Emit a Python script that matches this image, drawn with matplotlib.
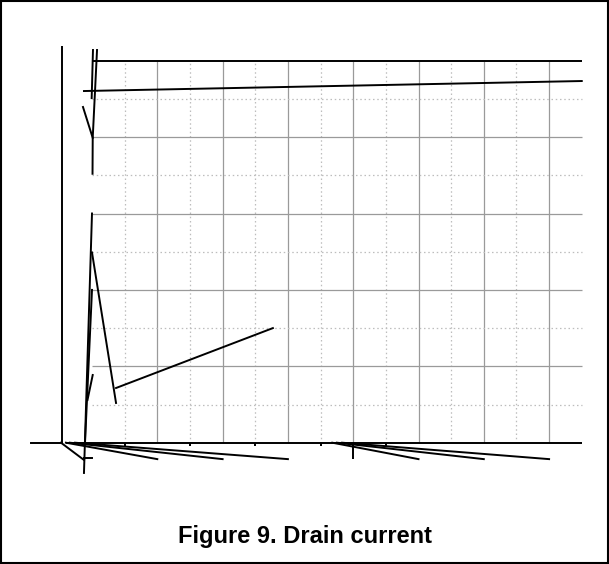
import matplotlib
matplotlib.use("Agg")
import matplotlib.pyplot as plt
from matplotlib.patches import Rectangle

# grid layout (data units)
x_major = [1, 2, 3, 4, 5, 6, 7]
x_minor = [0.5, 1.5, 2.5, 3.5, 4.5, 5.5, 6.5]
y_major = [1, 2, 3, 4]
y_minor = [0.5, 1.5, 2.5, 3.5, 4.5]
x_max = 7.5
y_max = 5.0

# tick marks under the axis
minor_tick_x = [0.5, 1.5, 2.5, 3.5, 4.5]
major_tick_x = [4.0]

# stray trace segments, each as (xs, ys)
top_trace_x = [0.077, 0.011, 0.008]
top_trace_y = [5.14, 3.99, 3.52]
top_stub_x = [0.015, -0.005]
top_stub_y = [5.14, 4.51]
top_v_x = [-0.138, 0.011]
top_v_y = [4.394, 3.99]
sat_line_x = [-0.123, 7.5]
sat_line_y = [4.603, 4.734]
drop_a_x = [0.0, -0.123]
drop_a_y = [3.0, -0.396]
drop_b_x = [0.0, -0.107]
drop_b_y = [2.0, 0.0]
drop_c_x = [0.0, 0.368]
drop_c_y = [2.49, 0.52]
drop_d_x = [0.011, -0.069]
drop_d_y = [0.886, 0.559]
rise_x = [0.368, 2.77]
rise_y = [0.716, 1.50]

# fans below the axis
fan1_start = [-0.40, -0.34, -0.26]
fan1_end = [1.0, 2.0, 3.0]
fan2_start = [3.68, 3.75, 3.83]
fan2_end = [5.0, 6.0, 7.0]
fan_y = -0.215

# left axis pieces
left_axis_x = -0.459
left_axis_top = 5.19
left_stub_x = [-0.934, -0.475]
left_diag_x = [-0.475, -0.123]
left_diag_y = [0.0, -0.226]
foot_tick_x = [-0.123, 0.0]
foot_tick_y = -0.20
axis_start = -0.40

caption = "Figure 9. Drain current"

fig = plt.figure(figsize=(6.09, 5.64), dpi=100)
ax = fig.add_axes([0, 0, 1, 1])
ax.set_xlim(-92 / 65.3, 517 / 65.3)
ax.set_ylim(-121.3 / 76.4, 442.7 / 76.4)
ax.axis("off")

lw = 1.4
grid_solid = dict(color="#9a9a9a", lw=0.9)
grid_dot = dict(color="#bdbdbd", lw=0.9, linestyle=(0, (1.2, 2.2)))

# grid
ax.vlines(x_major, 0, y_max, **grid_solid)
ax.vlines(x_minor, 0, y_max, **grid_dot)
ax.hlines(y_major, 0, x_max, **grid_solid)
ax.hlines(y_minor, 0, x_max, **grid_dot)

# top and bottom axis lines
ax.hlines(y_max, 0, x_max, color="black", lw=lw)
ax.hlines(0, axis_start, x_max, color="black", lw=lw)
ax.vlines(minor_tick_x, -0.04, 0, color="black", lw=lw)
ax.vlines(major_tick_x, fan_y, 0, color="black", lw=lw)

# left axis pieces
ax.vlines(left_axis_x, 0, left_axis_top, color="black", lw=lw)
ax.plot(left_stub_x, [0, 0], color="black", lw=lw)
ax.plot(left_diag_x, left_diag_y, color="black", lw=lw)
ax.plot(foot_tick_x, [foot_tick_y, foot_tick_y], color="black", lw=lw)

# traces
for xs, ys in [(top_trace_x, top_trace_y), (top_stub_x, top_stub_y),
               (top_v_x, top_v_y), (sat_line_x, sat_line_y),
               (drop_a_x, drop_a_y), (drop_b_x, drop_b_y),
               (drop_c_x, drop_c_y), (drop_d_x, drop_d_y),
               (rise_x, rise_y)]:
    ax.plot(xs, ys, color="black", lw=lw)

for s, e in zip(fan1_start, fan1_end):
    ax.plot([s, e], [0, fan_y], color="black", lw=lw)
for s, e in zip(fan2_start, fan2_end):
    ax.plot([s, e], [0, fan_y], color="black", lw=lw)

# caption and frame
fig.text(0.5, 1 - 537 / 564, caption, ha="center", va="center",
         fontsize=17, fontweight="bold", family="Liberation Sans")
fig.patches.append(Rectangle((0.0015, 0.0015), 0.997, 0.997, transform=fig.transFigure,
                             fill=False, edgecolor="black", lw=1.5))

fig.savefig("out.png", dpi=100)
